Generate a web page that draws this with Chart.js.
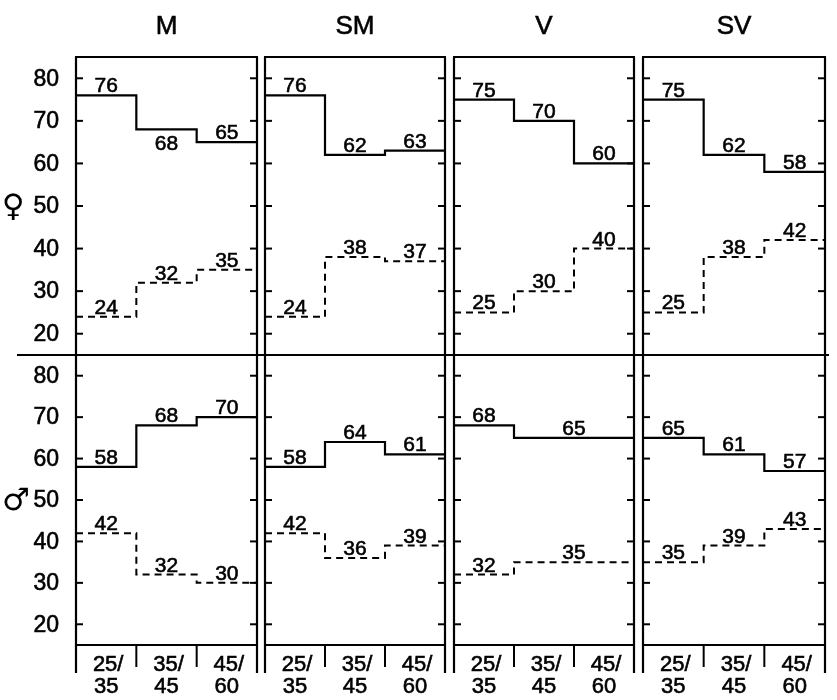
<!DOCTYPE html>
<html>
<head>
<meta charset="utf-8">
<script src="https://cdn.jsdelivr.net/npm/chart.js@4/dist/chart.umd.min.js"></script>
<style>
body { margin: 0; background: #fff; }
#wrap { position: relative; width: 837px; height: 700px; }
#wrap canvas { position: absolute; left: 0; top: 0; }
</style>
</head>
<body>
<div id="wrap"></div>
<script>
// groups across the top, age bands along the bottom
const groups = ['M', 'SM', 'V', 'SV'];
const ageLabels = [['25/', '35'], ['35/', '45'], ['45/', '60']];
const yTicks = [20, 30, 40, 50, 60, 70, 80];
const rowSymbols = ['\u2640', '\u2642'];

// one triple per group (M, SM, V, SV)
const femaleSolid  = [[76, 68, 65], [76, 62, 63], [75, 70, 60], [75, 62, 58]];
const femaleDashed = [[24, 32, 35], [24, 38, 37], [25, 30, 40], [25, 38, 42]];
const maleSolid    = [[58, 68, 70], [58, 64, 61], [68, 65, 65], [65, 61, 57]];
const maleDashed   = [[42, 32, 30], [42, 36, 39], [32, 35, 35], [35, 39, 43]];

// panel geometry (page pixels)
const W = 837, H = 700;
const colLeft  = [76, 265, 454, 643];
const colRight = [257, 445, 634, 825];
const rowTop    = [57, 355];
const rowBottom = [355, 645];
const FONT = '"Liberation Sans", Arial, sans-serif';

// labels that sit under their line instead of over it
const labelsBelow = ['0-0-solid-1'];

function stepData(vals) {
    // last value repeated so the final step runs to the right edge
    return vals.concat([vals[vals.length - 1]]).map((v, i) => ({ x: i, y: v }));
}

function line(ctx, x1, y1, x2, y2) {
    ctx.beginPath();
    ctx.moveTo(x1, y1);
    ctx.lineTo(x2, y2);
    ctx.stroke();
}

// scanned text looks heavier, so give it a thin outline
function text(ctx, s, x, y) {
    ctx.fillText(s, x, y);
    ctx.lineWidth = 0.6;
    ctx.strokeText(s, x, y);
}

const panelPlugin = {
    id: 'panel',
    afterDatasetsDraw(chart) {
        const { ctx, chartArea: a, scales } = chart;
        const o = chart.options.plugins.panel;
        const xs = scales.x, ys = scales.y;
        ctx.save();
        ctx.strokeStyle = '#000';
        ctx.fillStyle = '#000';
        ctx.lineWidth = 2.2;

        // frame
        const vBottom = o.row === 1 ? 673 : a.bottom;
        line(ctx, a.left, a.top, a.left, vBottom);
        line(ctx, a.right, a.top, a.right, vBottom);
        if (o.row === 0) line(ctx, a.left - 1, a.top, a.right + 1, a.top);
        if (o.row === 1) line(ctx, a.left - 1, a.bottom, a.right + 1, a.bottom);
        if (o.row === 0 && o.col === 0) line(ctx, 17, a.bottom, 829, a.bottom);

        // inward ticks on both sides
        ctx.lineWidth = 2;
        yTicks.forEach(t => {
            const y = ys.getPixelForValue(t);
            line(ctx, a.left, y, a.left + 7, y);
            line(ctx, a.right - 7, y, a.right, y);
        });

        // value labels
        ctx.font = '21px ' + FONT;
        ctx.textAlign = 'center';
        o.series.forEach(s => {
            const vals = s.vals;
            let i = 0;
            while (i < vals.length) {
                let j = i;
                while (j + 1 < vals.length && vals[j + 1] === vals[i]) j++;
                const cx = (xs.getPixelForValue(i) + xs.getPixelForValue(j + 1)) / 2;
                const y = ys.getPixelForValue(vals[i]);
                const key = o.row + '-' + o.col + '-' + s.kind + '-' + i;
                if (labelsBelow.includes(key)) {
                    ctx.textBaseline = 'top';
                    text(ctx, String(vals[i]), cx, y + 4);
                } else {
                    ctx.textBaseline = 'alphabetic';
                    text(ctx, String(vals[i]), cx, y - 3);
                }
                i = j + 1;
            }
        });

        // column title
        if (o.row === 0) {
            ctx.font = '26px ' + FONT;
            ctx.textBaseline = 'middle';
            text(ctx, groups[o.col], (a.left + a.right) / 2, 27);
        }

        // y tick labels and sex symbol on the first column
        if (o.col === 0) {
            ctx.font = '23px ' + FONT;
            ctx.textAlign = 'right';
            ctx.textBaseline = 'middle';
            yTicks.forEach(t => text(ctx, String(t), 59, ys.getPixelForValue(t) + 1));
            ctx.font = '31px "DejaVu Sans", sans-serif';
            ctx.textAlign = 'center';
            ctx.fillText(rowSymbols[o.row], o.row === 0 ? 13 : 16, ys.getPixelForValue(50) + 2);
        }

        // age bands below the bottom row
        if (o.row === 1) {
            ctx.lineWidth = 2;
            [1, 2].forEach(v => {
                const x = xs.getPixelForValue(v);
                line(ctx, x, a.bottom, x, 667);
            });
            ctx.font = '22px ' + FONT;
            ctx.textAlign = 'center';
            ctx.textBaseline = 'middle';
            ageLabels.forEach((lab, k) => {
                const x = xs.getPixelForValue(k + 0.5);
                text(ctx, lab[0], x + 2, a.bottom + 20);
                text(ctx, lab[1], x, a.bottom + 42);
            });
        }
        ctx.restore();
    }
};

function buildPanel(row, col, solid, dashed) {
    const canvas = document.createElement('canvas');
    canvas.width = W;
    canvas.height = H;
    canvas.style.width = W + 'px';
    canvas.style.height = H + 'px';
    document.getElementById('wrap').appendChild(canvas);

    const config = {
        type: 'line',
        data: {
            datasets: [{
                data: stepData(solid),
                stepped: 'before',
                borderColor: '#000',
                borderWidth: 2.2,
                pointRadius: 0,
                fill: false
            }, {
                data: stepData(dashed),
                stepped: 'before',
                borderColor: '#000',
                borderWidth: 2,
                borderDash: [7, 5],
                pointRadius: 0,
                fill: false
            }]
        },
        options: {
            responsive: false,
            animation: false,
            events: [],
            layout: {
                padding: {
                    left: colLeft[col],
                    right: W - colRight[col],
                    top: rowTop[row],
                    bottom: H - rowBottom[row]
                }
            },
            scales: {
                x: { type: 'linear', min: 0, max: 3, display: false },
                y: { type: 'linear', min: 15, max: 85, display: false }
            },
            plugins: {
                legend: { display: false },
                tooltip: { enabled: false },
                panel: {
                    row: row,
                    col: col,
                    series: [{ kind: 'solid', vals: solid }, { kind: 'dashed', vals: dashed }]
                }
            }
        },
        plugins: [panelPlugin]
    };
    new Chart(canvas, config);
}

for (let c = 0; c < groups.length; c++) {
    buildPanel(0, c, femaleSolid[c], femaleDashed[c]);
    buildPanel(1, c, maleSolid[c], maleDashed[c]);
}
</script>
</body>
</html>
